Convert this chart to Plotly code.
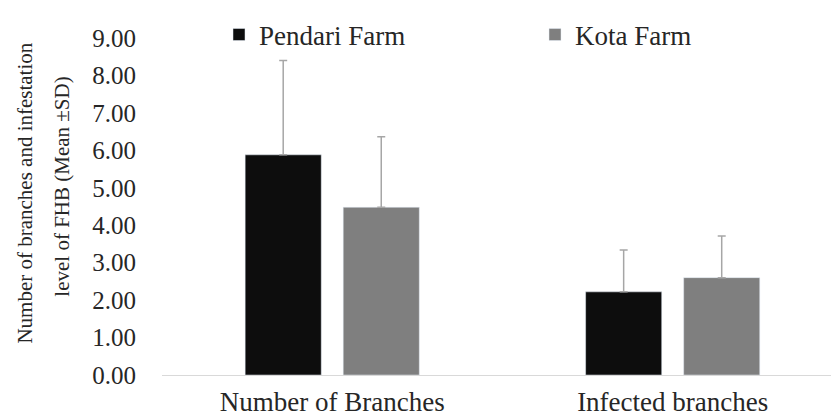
import plotly.graph_objects as go

categories = ["Number of Branches", "Infected branches"]
pendari_mean = [5.88, 2.22]
pendari_sd = [2.52, 1.12]
kota_mean = [4.48, 2.60]
kota_sd = [1.88, 1.11]
y_ticks = [0, 1, 2, 3, 4, 5, 6, 7, 8, 9]
y_ticklabels = [f"{v:.2f}" for v in y_ticks]
y_title_lines = ["Number of branches and infestation", "level of FHB (Mean ±SD)"]

serif = "Liberation Serif, Times New Roman, serif"
txt = "#262626"
err_style = dict(type="data", symmetric=False, color="#a6a6a6", thickness=1.5, width=4)

fig = go.Figure()
fig.add_trace(go.Bar(
    name="Pendari Farm", x=categories, y=pendari_mean, marker_color="#0d0d0d", legend="legend",
    error_y=dict(array=pendari_sd, arrayminus=[0] * len(pendari_sd), **err_style),
))
fig.add_trace(go.Bar(
    name="Kota Farm", x=categories, y=kota_mean, marker_color="#7f7f7f", legend="legend2",
    error_y=dict(array=kota_sd, arrayminus=[0] * len(kota_sd), **err_style),
))

plot_l, plot_w = 162, 669
annotations = [
    dict(text=y_title_lines[0], xref="paper", yref="paper", x=(25 - plot_l) / plot_w, y=(378 - 195) / 340,
         xanchor="center", yanchor="middle", textangle=-90, showarrow=False,
         font=dict(size=21, family=serif, color=txt)),
    dict(text=y_title_lines[1], xref="paper", yref="paper", x=(62 - plot_l) / plot_w, y=(378 - 188) / 340,
         xanchor="center", yanchor="middle", textangle=-90, showarrow=False,
         font=dict(size=21, family=serif, color=txt)),
]

legend_common = dict(
    orientation="h", xanchor="left", y=1.009, yanchor="middle",
    font=dict(size=27, family=serif, color=txt),
    itemwidth=30, bgcolor="rgba(0,0,0,0)",
)

fig.update_layout(
    width=831, height=417,
    margin=dict(l=plot_l, r=0, t=38, b=39),
    paper_bgcolor="white", plot_bgcolor="white",
    barmode="group", bargap=0.424, bargroupgap=0.224,
    font=dict(family=serif, color=txt),
    showlegend=True,
    annotations=annotations,
    legend=dict(x=(219 - plot_l) / plot_w, **legend_common),
    legend2=dict(x=(535 - plot_l) / plot_w, **legend_common),
    xaxis=dict(
        range=[-0.5, 1.465], showgrid=False, showline=True, linecolor="#d9d9d9", linewidth=1,
        ticks="", tickfont=dict(size=27, family=serif, color=txt),
        ticklabelstandoff=3,
    ),
    yaxis=dict(
        range=[0, 9], tickvals=y_ticks, ticktext=y_ticklabels, showgrid=False,
        showline=False, zeroline=False, ticks="",
        tickfont=dict(size=25, family=serif, color=txt),
        ticklabelstandoff=25,
        automargin=False,
    ),
)

fig.write_html("out.html")
